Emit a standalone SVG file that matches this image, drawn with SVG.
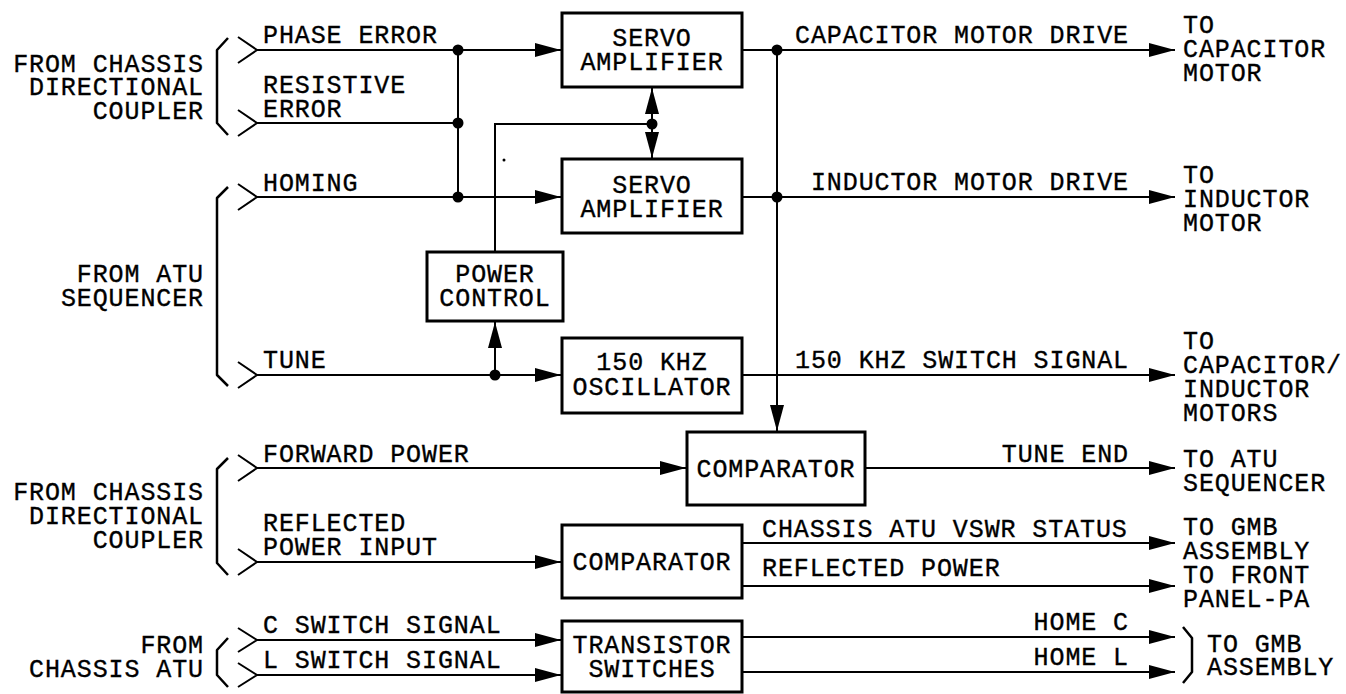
<svg xmlns="http://www.w3.org/2000/svg" width="1346" height="694" viewBox="0 0 1346 694">
<style>
  text { font-family: "Liberation Mono", "DejaVu Sans Mono", monospace; font-size: 25px; letter-spacing: 0.9px; fill: #000; stroke: #000; stroke-width: 0.35px; }
  .e { text-anchor: end; }
  .m { text-anchor: middle; }
  .box { fill: #fff; stroke: #000; stroke-width: 3; }
  .w { fill: none; stroke: #000; stroke-width: 2; }
  .br { fill: none; stroke: #000; stroke-width: 2.5; stroke-linejoin: round; }
  .dot { fill: #000; }
</style>
<defs>
  <marker id="arr" viewBox="0 0 26 16" refX="26" refY="8" markerWidth="26" markerHeight="16" markerUnits="userSpaceOnUse" orient="auto-start-reverse">
    <path d="M0,1 L26,8 L0,15 z" fill="#000"/>
  </marker>
</defs>
<rect width="1346" height="694" fill="#fff"/>

<g id="connectors">
  <!-- inputs -->
  <line class="w" x1="257" y1="50" x2="561" y2="50" marker-end="url(#arr)"/>
  <line class="w" x1="257" y1="123" x2="458" y2="123"/>
  <line class="w" x1="257" y1="197" x2="561" y2="197" marker-end="url(#arr)"/>
  <line class="w" x1="458" y1="50" x2="458" y2="197"/>
  <line class="w" x1="257" y1="375" x2="561" y2="375" marker-end="url(#arr)"/>
  <line class="w" x1="495" y1="375" x2="495" y2="322" marker-end="url(#arr)"/>
  <polyline class="w" points="495,252 495,124 652,124"/>
  <line class="w" x1="652" y1="88" x2="652" y2="158" marker-start="url(#arr)" marker-end="url(#arr)"/>
  <line class="w" x1="257" y1="468" x2="686" y2="468" marker-end="url(#arr)"/>
  <line class="w" x1="257" y1="562" x2="561" y2="562" marker-end="url(#arr)"/>
  <line class="w" x1="257" y1="640" x2="561" y2="640" marker-end="url(#arr)"/>
  <line class="w" x1="257" y1="675" x2="561" y2="675" marker-end="url(#arr)"/>
  <!-- outputs -->
  <line class="w" x1="742" y1="50" x2="1175" y2="50" marker-end="url(#arr)"/>
  <line class="w" x1="742" y1="197" x2="1175" y2="197" marker-end="url(#arr)"/>
  <line class="w" x1="777" y1="50" x2="777" y2="431" marker-end="url(#arr)"/>
  <line class="w" x1="742" y1="375" x2="1175" y2="375" marker-end="url(#arr)"/>
  <line class="w" x1="865" y1="468" x2="1175" y2="468" marker-end="url(#arr)"/>
  <line class="w" x1="742" y1="543" x2="1175" y2="543" marker-end="url(#arr)"/>
  <line class="w" x1="742" y1="586" x2="1175" y2="586" marker-end="url(#arr)"/>
  <line class="w" x1="742" y1="637" x2="1175" y2="637" marker-end="url(#arr)"/>
  <line class="w" x1="742" y1="672" x2="1175" y2="672" marker-end="url(#arr)"/>
  <!-- junction dots -->
  <circle class="dot" cx="458" cy="50" r="5.5"/>
  <circle class="dot" cx="458" cy="123" r="5.5"/>
  <circle class="dot" cx="458" cy="197" r="5.5"/>
  <circle class="dot" cx="652" cy="124" r="5.5"/>
  <circle class="dot" cx="777" cy="50" r="5.5"/>
  <circle class="dot" cx="777" cy="197" r="5.5"/>
  <circle class="dot" cx="495" cy="375" r="5.5"/>
  <circle class="dot" cx="504" cy="160" r="1.5"/>
  <!-- chevrons -->
  <polyline class="w" points="238,37 257,50 238,63"/>
  <polyline class="w" points="238,110 257,123 238,136"/>
  <polyline class="w" points="238,184 257,197 238,210"/>
  <polyline class="w" points="238,362 257,375 238,388"/>
  <polyline class="w" points="238,455 257,468 238,481"/>
  <polyline class="w" points="238,549 257,562 238,575"/>
  <polyline class="w" points="238,628 257,640 238,652"/>
  <polyline class="w" points="238,663 257,675 238,687"/>
  <!-- braces -->
  <polyline class="br" points="228,38 217,50 217,123 228,135"/>
  <polyline class="br" points="228,187 217,198 217,375 228,386"/>
  <polyline class="br" points="228,458 217,469 217,563 228,575"/>
  <polyline class="br" points="228,638 217,650 217,675 228,687"/>
  <polyline class="br" points="1183,627 1192,638 1192,672 1183,683"/>
</g>

<g id="servo1">
  <rect class="box" x="562" y="13" width="180" height="74"/>
  <text class="m" x="652" y="46">SERVO</text>
  <text class="m" x="652" y="70">AMPLIFIER</text>
</g>
<g id="servo2">
  <rect class="box" x="562" y="159" width="180" height="74"/>
  <text class="m" x="652" y="193">SERVO</text>
  <text class="m" x="652" y="217">AMPLIFIER</text>
</g>
<g id="powercontrol">
  <rect class="box" x="427" y="252" width="136" height="69"/>
  <text class="m" x="495" y="282">POWER</text>
  <text class="m" x="495" y="306">CONTROL</text>
</g>
<g id="oscillator">
  <rect class="box" x="562" y="338" width="180" height="75"/>
  <text class="m" x="652" y="370">150 KHZ</text>
  <text class="m" x="652" y="395">OSCILLATOR</text>
</g>
<g id="comparator1">
  <rect class="box" x="687" y="432" width="178" height="73"/>
  <text class="m" x="776" y="477">COMPARATOR</text>
</g>
<g id="comparator2">
  <rect class="box" x="562" y="525" width="180" height="73"/>
  <text class="m" x="652" y="570">COMPARATOR</text>
</g>
<g id="transistor">
  <rect class="box" x="562" y="621" width="180" height="71"/>
  <text class="m" x="652" y="653">TRANSISTOR</text>
  <text class="m" x="652" y="677">SWITCHES</text>
</g>

<g id="left-labels">
  <text class="e" x="204" y="72">FROM CHASSIS</text>
  <text class="e" x="204" y="95">DIRECTIONAL</text>
  <text class="e" x="204" y="119">COUPLER</text>
  <text class="e" x="204" y="282">FROM ATU</text>
  <text class="e" x="204" y="306">SEQUENCER</text>
  <text class="e" x="204" y="500">FROM CHASSIS</text>
  <text class="e" x="204" y="524">DIRECTIONAL</text>
  <text class="e" x="204" y="548">COUPLER</text>
  <text class="e" x="204" y="653">FROM</text>
  <text class="e" x="204" y="677">CHASSIS ATU</text>
</g>

<g id="signal-labels">
  <text x="263" y="43">PHASE ERROR</text>
  <text x="263" y="93">RESISTIVE</text>
  <text x="263" y="117">ERROR</text>
  <text x="263" y="191">HOMING</text>
  <text x="263" y="368">TUNE</text>
  <text x="263" y="462">FORWARD POWER</text>
  <text x="263" y="531">REFLECTED</text>
  <text x="263" y="555">POWER INPUT</text>
  <text x="263" y="633">C SWITCH SIGNAL</text>
  <text x="263" y="668">L SWITCH SIGNAL</text>
  <text class="e" x="1129" y="43">CAPACITOR MOTOR DRIVE</text>
  <text class="e" x="1129" y="190">INDUCTOR MOTOR DRIVE</text>
  <text class="e" x="1129" y="368">150 KHZ SWITCH SIGNAL</text>
  <text class="e" x="1129" y="462">TUNE END</text>
  <text x="762" y="537">CHASSIS ATU VSWR STATUS</text>
  <text x="762" y="576">REFLECTED POWER</text>
  <text class="e" x="1129" y="630">HOME C</text>
  <text class="e" x="1129" y="665">HOME L</text>
</g>

<g id="right-labels">
  <text x="1183" y="33">TO</text>
  <text x="1183" y="57">CAPACITOR</text>
  <text x="1183" y="81">MOTOR</text>
  <text x="1183" y="183">TO</text>
  <text x="1183" y="207">INDUCTOR</text>
  <text x="1183" y="231">MOTOR</text>
  <text x="1183" y="349">TO</text>
  <text x="1183" y="373">CAPACITOR/</text>
  <text x="1183" y="397">INDUCTOR</text>
  <text x="1183" y="421">MOTORS</text>
  <text x="1183" y="467">TO ATU</text>
  <text x="1183" y="491">SEQUENCER</text>
  <text x="1183" y="535">TO GMB</text>
  <text x="1183" y="559">ASSEMBLY</text>
  <text x="1183" y="583">TO FRONT</text>
  <text x="1183" y="607">PANEL-PA</text>
  <text x="1207" y="652">TO GMB</text>
  <text x="1207" y="675">ASSEMBLY</text>
</g>
</svg>
